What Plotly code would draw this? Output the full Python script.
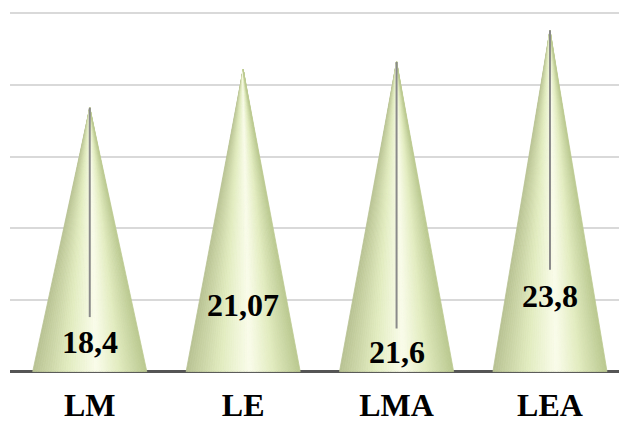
import plotly.graph_objects as go

# Chart data
categories = ["LM", "LE", "LMA", "LEA"]
values = [18.4, 21.07, 21.6, 23.8]
value_labels = ["18,4", "21,07", "21,6", "23,8"]

# Label placement inside each cone (value units) and leader-line end
label_y = [2.05, 4.65, 1.4, 5.25]
leader_end = [3.8, None, 3.0, 7.1]

HALF_W = 0.372
N_STRIPS = 48


def shade(t):
    """Colour across the cone surface, t in [0, 1] from left edge to right edge."""
    edge_l = (184, 194, 146)
    edge_r = (186, 200, 144)
    mid = (226, 236, 192)
    high = (250, 252, 234)
    hp = 0.56
    if t <= hp:
        u = t / hp
        if u < 0.55:
            a, b, f = edge_l, mid, u / 0.55
        else:
            a, b, f = mid, high, (u - 0.55) / 0.45
    else:
        u = (t - hp) / (1 - hp)
        if u < 0.45:
            a, b, f = high, mid, u / 0.45
        else:
            a, b, f = mid, edge_r, (u - 0.45) / 0.55
    c = [round(a[i] + (b[i] - a[i]) * f) for i in range(3)]
    return f"rgb({c[0]},{c[1]},{c[2]})"


fig = go.Figure()

# Cones: each drawn as fan strips from the apex to the base, shaded across
for k in range(N_STRIPS):
    t0 = k / N_STRIPS
    t1 = (k + 1) / N_STRIPS
    xs, ys = [], []
    for i, v in enumerate(values):
        xl = i - HALF_W + 2 * HALF_W * t0
        xr = i - HALF_W + 2 * HALF_W * t1
        xs += [i, xl, xr, i, None]
        ys += [v, 0, 0, v, None]
    col = shade((t0 + t1) / 2)
    fig.add_trace(go.Scatter(
        x=xs, y=ys, mode="lines", fill="toself",
        fillcolor=col, line=dict(width=0.8, color=col),
        hoverinfo="skip", showlegend=False,
    ))

# Leader lines from the apex down toward the value label
for i, v in enumerate(values):
    if leader_end[i] is None:
        continue
    fig.add_trace(go.Scatter(
        x=[i, i], y=[v, leader_end[i]], mode="lines",
        line=dict(color="#8a8a8a", width=2),
        hoverinfo="skip", showlegend=False,
    ))

SERIF = "Liberation Serif, Times New Roman, serif"

# Value labels
for i, txt in enumerate(value_labels):
    fig.add_annotation(
        x=i, y=label_y[i], text=txt, showarrow=False,
        font=dict(family=SERIF, size=32, color="black", weight="bold"),
    )

fig.update_layout(
    width=619, height=423,
    margin=dict(l=10, r=0, t=6, b=47),
    paper_bgcolor="white", plot_bgcolor="white",
    xaxis=dict(
        range=[-0.52, 3.45], tickmode="array",
        tickvals=list(range(len(categories))), ticktext=categories,
        tickfont=dict(family=SERIF, size=32, color="black", weight="bold"),
        showgrid=False, zeroline=False, showline=False, ticks="",
        ticklabelstandoff=10,
    ),
    yaxis=dict(
        range=[-0.1, 25.5], tickvals=[5, 10, 15, 20, 25],
        showticklabels=False, showgrid=True, gridcolor="#d9d9d9", gridwidth=2,
        zeroline=True, zerolinecolor="#555555", zerolinewidth=3, showline=False,
    ),
)

fig.write_html("out.html")
